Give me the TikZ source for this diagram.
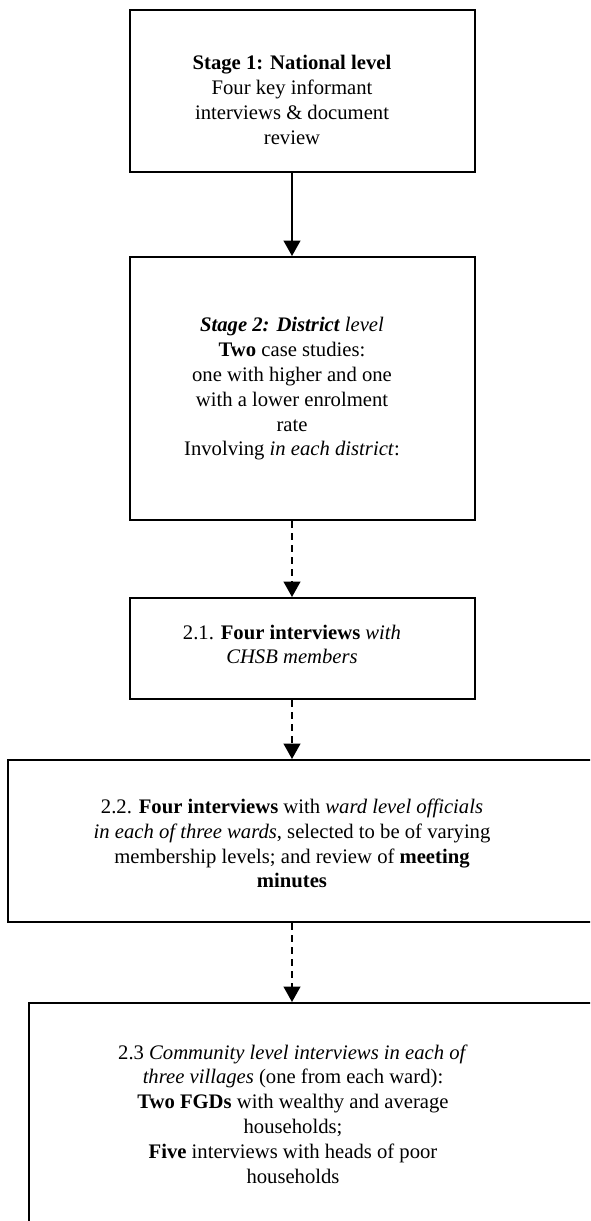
\documentclass[tikz,border=0pt]{standalone}
\usepackage{fontspec}
\setmainfont{Liberation Serif}
\usetikzlibrary{arrows.meta}

\tikzset{
  box/.style={draw, line width=1.5pt, inner sep=0pt},
  txt/.style={align=center, inner sep=0pt, font=\fontsize{15.5}{18.6}\selectfont},
  arr/.style={line width=1.4pt, -{Triangle[length=11.5pt,width=12.5pt]}},
  darr/.style={arr, dash pattern=on 5pt off 4pt}
}

\begin{document}
\begin{tikzpicture}[x=0.75pt,y=-0.75pt]
    \useasboundingbox (0,0) rectangle (590,1221);
    \clip (0,0) rectangle (590,1221);
    % Stage 1
    \node[box, minimum width=258.75pt, minimum height=121.5pt] (natbox) at (302.5,91) {};
    \node[txt] (nattext) at (292,100) {\textbf{Stage 1: National level}\\
      Four key informant\\ interviews \& document\\ review};
    % Stage 2
    \node[box, minimum width=258.75pt, minimum height=197.25pt] (distbox) at (302.5,388.5) {};
    \node[txt] (disttext) at (292,389) {\textit{\textbf{Stage 2: District} level}\\
      \textbf{Two} case studies:\\ one with higher and one\\
      with a lower enrolment\\ rate\\ Involving \textit{in each district}:};
    % 2.1
    \node[box, minimum width=258.75pt, minimum height=75.75pt] (chsbbox) at (302.5,648.5) {};
    \node[txt] (chsbtext) at (292,644.5) {2.1. \textbf{Four interviews} \textit{with}\\
      \textit{CHSB members}};
    % 2.2
    \node[box, minimum width=459pt, minimum height=121.5pt] (wardbox) at (314,841) {};
    \node[txt] (wardtext) at (292,843.5) {2.2. \textbf{Four interviews} with \textit{ward level officials}\\
      \textit{in each of three wards}, selected to be of varying\\
      membership levels; and review of \textbf{meeting}\\ \textbf{minutes}};
    % 2.3
    \node[box, minimum width=443.25pt, minimum height=192.75pt] (villbox) at (324.5,1131.5) {};
    \node[txt] (villtext) at (293,1114) {2.3 \textit{Community level interviews in each of}\\
      \textit{three villages} (one from each ward):\\
      \textbf{Two FGDs} with wealthy and average\\ households;\\
      \textbf{Five} interviews with heads of poor\\ households};
    % Arrows
    \draw[arr] (natbox.south -| nattext) -- (distbox.north -| nattext);
    \draw[darr] (distbox.south -| nattext) -- (chsbbox.north -| nattext);
    \draw[darr] (chsbbox.south -| nattext) -- (wardbox.north -| nattext);
    \draw[darr] (wardbox.south -| nattext) -- (villbox.north -| nattext);
\end{tikzpicture}
\end{document}
